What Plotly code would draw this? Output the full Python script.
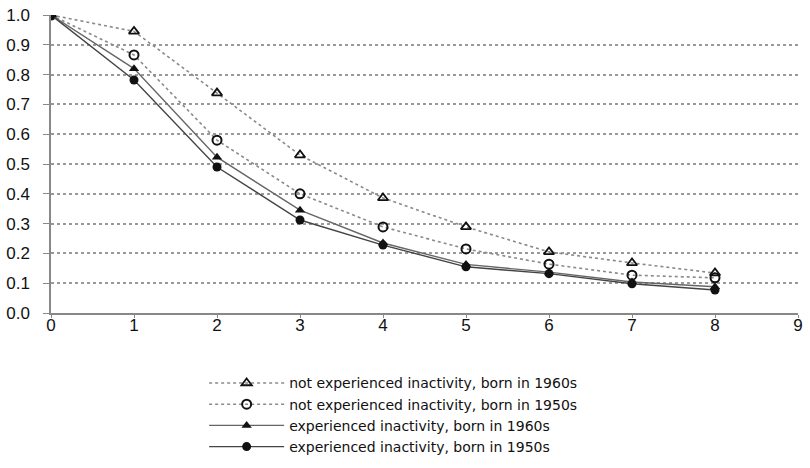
import plotly.graph_objects as go

years = [0, 1, 2, 3, 4, 5, 6, 7, 8]
not_exp_1960s = [1.0, 0.945, 0.738, 0.53, 0.386, 0.289, 0.205, 0.168, 0.134]
not_exp_1950s = [1.0, 0.866, 0.58, 0.40, 0.289, 0.215, 0.164, 0.127, 0.118]
exp_1960s = [1.0, 0.82, 0.523, 0.345, 0.235, 0.163, 0.137, 0.104, 0.088]
exp_1950s = [1.0, 0.782, 0.49, 0.312, 0.228, 0.155, 0.132, 0.098, 0.077]
names = [
    "not experienced inactivity, born in 1960s",
    "not experienced inactivity, born in 1950s",
    "experienced inactivity, born in 1960s",
    "experienced inactivity, born in 1950s",
]
x_ticks = list(range(0, 10))
y_ticks = [round(i * 0.1, 1) for i in range(11)]

fig = go.Figure()
fig.add_trace(go.Scatter(
    x=years, y=not_exp_1960s, name=names[0], mode="lines+markers",
    line=dict(color="#8a8a8a", width=1.6, dash="dot"),
    marker=dict(symbol="triangle-up-open", size=9, color="#111",
                line=dict(width=1.8, color="#111"))))
fig.add_trace(go.Scatter(
    x=years, y=not_exp_1950s, name=names[1], mode="lines+markers",
    line=dict(color="#8a8a8a", width=1.6, dash="dot"),
    marker=dict(symbol="circle-open", size=9, color="#111",
                line=dict(width=2, color="#111"))))
fig.add_trace(go.Scatter(
    x=years, y=exp_1960s, name=names[2], mode="lines+markers",
    line=dict(color="#666", width=1.4),
    marker=dict(symbol="triangle-up", size=9, color="#111")))
fig.add_trace(go.Scatter(
    x=years, y=exp_1950s, name=names[3], mode="lines+markers",
    line=dict(color="#444", width=1.4),
    marker=dict(symbol="circle", size=9, color="#111")))

fig.update_layout(
    width=810, height=468,
    margin=dict(l=51, r=12, t=15, b=155, autoexpand=False),
    paper_bgcolor="white", plot_bgcolor="white",
    font=dict(family="Liberation Sans, Arial, sans-serif", color="#111"),
    showlegend=True,
    legend=dict(
        x=0.205, y=0.215, xanchor="left", yanchor="top", yref="container",
        font=dict(size=14, color="#111", family="DejaVu Sans, sans-serif"),
        itemwidth=75, tracegroupgap=0,
        bgcolor="rgba(0,0,0,0)",
    ),
)
fig.update_xaxes(
    range=[0, 9], tickvals=x_ticks, ticktext=[str(v) for v in x_ticks],
    showgrid=False, zeroline=False, showline=True, linecolor="#888", linewidth=1.5,
    ticks="outside", ticklen=3, tickcolor="#888", ticklabelstandoff=-7,
    tickfont=dict(size=17, color="#111"), automargin=False,
)
fig.update_yaxes(
    range=[0, 1.0], tickvals=y_ticks, ticktext=[f"{v:.1f}" for v in y_ticks],
    showgrid=True, gridcolor="#999", griddash="dot", gridwidth=1.6,
    zeroline=False, showline=True, linecolor="#888", linewidth=1.5,
    ticks="outside", ticklen=6, tickcolor="#888", ticklabelstandoff=10,
    tickfont=dict(size=17, color="#111"), automargin=False,
)

fig.write_html("out.html")
